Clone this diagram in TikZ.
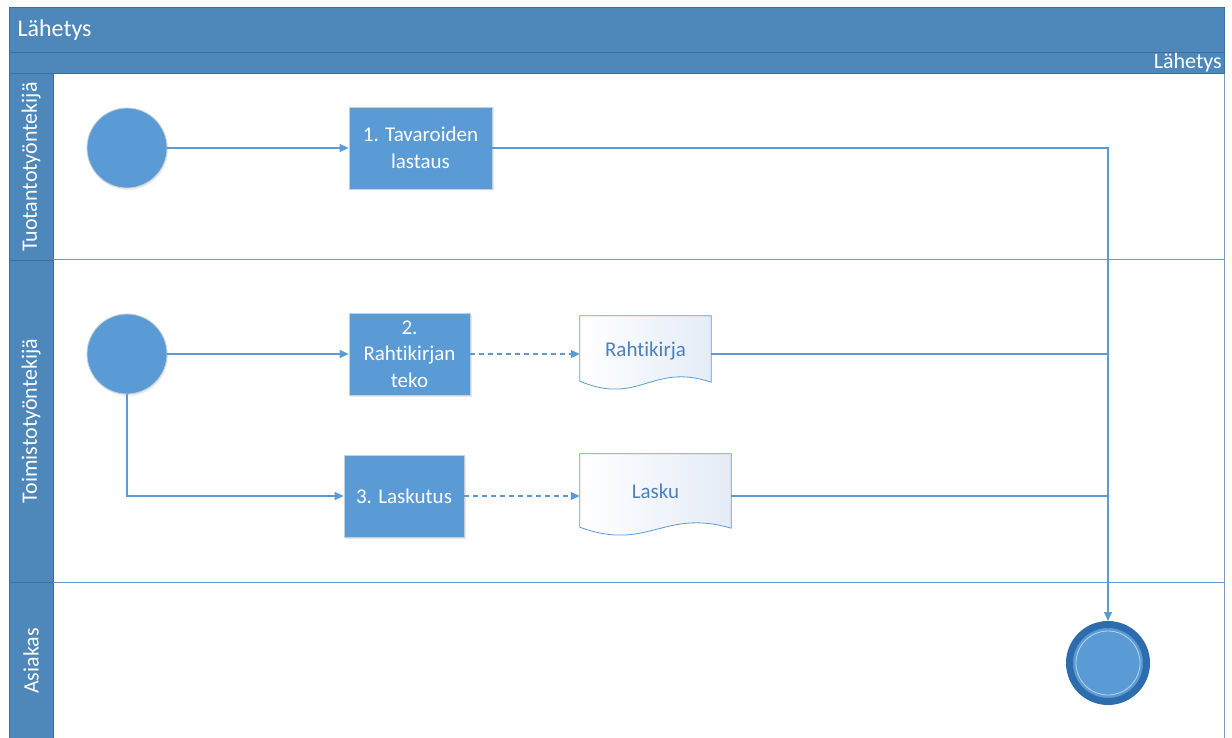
\documentclass[tikz,border=0pt]{standalone}
\usepackage{fontspec}
\setmainfont{Carlito}[Ligatures=NoCommon]
\usetikzlibrary{arrows.meta,calc,shadows,backgrounds}

\definecolor{hdr}{HTML}{4E87BA}
\definecolor{hdrline}{HTML}{3F6E9A}
\definecolor{taskfill}{HTML}{5B9BD5}
\definecolor{flowc}{HTML}{5B9BD5}
\definecolor{doctext}{HTML}{4A80BE}
\definecolor{endring}{HTML}{2E6DAD}
\definecolor{docfill}{HTML}{E4ECF7}
\definecolor{rim}{HTML}{C5CFD9}

\tikzset{
  startev/.style={circle, minimum size=80pt, inner sep=0pt, fill=taskfill, draw=rim, line width=0.8pt,
    drop shadow={opacity=0.15, shadow xshift=1pt, shadow yshift=-2pt}},
  endev/.style={circle, minimum size=77pt, inner sep=0pt, fill=taskfill, draw=endring, line width=7pt,
    drop shadow={opacity=0.15, shadow xshift=1pt, shadow yshift=-2pt}},
  taskbox/.style={rectangle, fill=taskfill, draw=rim, line width=0.6pt, text=white, align=center,
    font=\fontsize{21}{26.5}\selectfont, inner sep=2pt,
    drop shadow={opacity=0.18, shadow xshift=1.5pt, shadow yshift=-1.5pt}},
  docnode/.style={rectangle, draw=none, text=doctext, font=\fontsize{21}{25}\selectfont, inner sep=0pt},
  docshape/.style={draw=flowc, line width=0.8pt, left color=white, right color=docfill},
  flowline/.style={draw=flowc, line width=1.2pt},
  flowarrow/.style={flowline, -{Triangle[length=9pt,width=8pt]}},
  dasharrow/.style={flowarrow, dash pattern=on 5pt off 4pt},
  lanelabel/.style={rotate=90, text=white, font=\fontsize{22}{26}\selectfont},
}

\newcommand\docwave[1]{%
  \path[docshape] (#1.north west) -- (#1.north east) -- ($(#1.south east)+(0,-10)$)
    .. controls ($(#1.south east)!0.45!(#1.south west)+(0,-30)$)
           and ($(#1.south east)!0.55!(#1.south west)+(0,14)$)
    .. ($(#1.south west)+(0,-11)$) -- cycle;}

\begin{document}
\begin{tikzpicture}[x=1pt,y=-1pt]
\useasboundingbox (0,0) rectangle (1232,738);

% pool header, phase band and lane label column
\fill[hdr] (9,7) rectangle (1224,74);
\fill[hdr] (9,74) rectangle (53,738);
\draw[hdrline, line width=0.8pt] (9,738) -- (9,7) -- (1224,7) -- (1224,74);
\draw[hdrline, line width=0.8pt] (9,52) -- (1224,52);
\draw[hdrline, line width=1pt] (9,74) -- (1224,74);
\draw[hdrline, line width=0.8pt] (53,74) -- (53,738);
\draw[hdrline!70, line width=0.8pt] (1224,74) -- (1224,738);

% lane separators
\draw[hdrline, line width=0.8pt] (9,260) -- (53,260);
\draw[flowc, line width=1pt] (53,260) -- (1224,260);
\draw[hdrline, line width=0.8pt] (9,582) -- (53,582);
\draw[flowc, line width=1pt] (53,582) -- (1224,582);

\node[anchor=west, text=white, font=\fontsize{24}{28}\selectfont] (title) at (14,30) {Lähetys};
\node[anchor=east, text=white, font=\fontsize{22}{26}\selectfont, inner sep=0pt] (phase) at (1222,63) {Lähetys};

\node[lanelabel] (lane1) at (31,167) {Tuotantotyöntekijä};
\node[lanelabel] (lane2) at (31,421) {Toimistotyöntekijä};
\node[lanelabel] (lane3) at (31,661) {Asiakas};

% events and tasks
\node[startev] (s1) at (127,148) {};
\node[startev] (s2) at (127,354) {};
\node[taskbox, minimum width=143pt, minimum height=82pt] (t1) at (420.5,148) {1. Tavaroiden\\lastaus};
\node[taskbox, minimum width=121pt, minimum height=82pt] (t2) at (409.5,354) {2.\\Rahtikirjan\\teko};
\node[taskbox, minimum width=120pt, minimum height=82pt] (t3) at (404,496) {3. Laskutus};
\node[docnode, minimum width=131pt, minimum height=76pt] (d1) at (645.5,354) {\raisebox{9pt}{Rahtikirja}};
\node[docnode, minimum width=151pt, minimum height=84pt] (d2) at (655.5,496) {\raisebox{9pt}{Lasku}};
\node[endev] (e) at (1108,663) {};
\draw[white!55!taskfill, line width=0.8pt] (e.center) circle[radius=32pt];

\begin{pgfonlayer}{background}
  \docwave{d1}
  \docwave{d2}
\end{pgfonlayer}

% sequence flows
\draw[flowarrow] (s1) -- (t1);
\draw[flowarrow] (t1.east) -| (e.north);
\draw[flowarrow] (s2) -- (t2);
\draw[flowarrow] (s2.south) |- (t3.west);
\draw[dasharrow] (t2) -- (d1);
\draw[dasharrow] (t3) -- (d2);
\draw[flowline] (d1.east) -- (d1.east -| e.north);
\draw[flowline] (d2.east) -- (d2.east -| e.north);
\end{tikzpicture}
\end{document}
